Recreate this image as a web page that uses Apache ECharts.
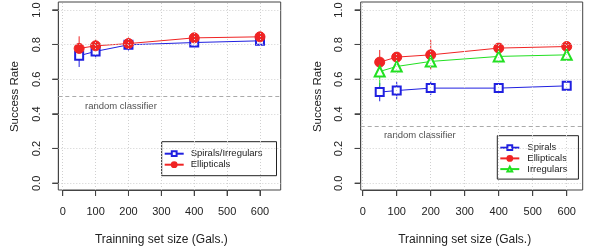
<!DOCTYPE html>
<html><head><meta charset="utf-8">
<script src="https://cdn.jsdelivr.net/npm/echarts@6/dist/echarts.min.js"></script>
<style>html,body{margin:0;padding:0;background:#fff}#c{width:600px;height:247px}</style>
</head><body><div id="c"></div>
<script>
// ---- data ----
const trainSizes = [50, 100, 200, 400, 600];
const xTicks = [0, 100, 200, 300, 400, 500, 600];
const yTicks = [0, 0.2, 0.4, 0.6, 0.8, 1.0];

// left panel
const spirIrrL = [0.735, 0.760, 0.798, 0.811, 0.821];
const spirIrrErrL = [0.065, 0.040, 0.033, 0.015, 0.010];
const ellipL = [0.777, 0.792, 0.805, 0.838, 0.844];
const ellipErrL = [0.070, 0.040, 0.035, 0.010, 0.010];
const randomL = 0.5;

// right panel
const spirR = [0.525, 0.534, 0.548, 0.548, 0.561];
const spirErrR = [0.053, 0.050, 0.040, 0.010, 0.015];
const ellipR = [0.698, 0.727, 0.740, 0.779, 0.788];
const ellipErrR = [0.070, 0.030, 0.085, 0.015, 0.015];
const irrR = [0.644, 0.673, 0.702, 0.731, 0.740];
const irrErrR = [0.085, 0.040, 0.030, 0.020, 0.020];
const randomR = 1 / 3;

const BLUE = '#2020e0', RED = '#f02424', GREEN = '#22e022';
const FONT = "'Liberation Sans', Arial, sans-serif";
const TXT = '#222';
const Y_RANGE = [-0.04, 1.045];
const X_RANGE_L = [-13.4, 663], X_RANGE_R = [-5.9, 647];

function pts(vals) { return trainSizes.map((x, i) => [x, vals[i]]); }
function errPts(vals, errs) { return trainSizes.map((x, i) => [x, vals[i], errs[i]]); }

function errSeries(idx, vals, errs, color) {
  return {
    type: 'custom', name: 'err' + idx + color, xAxisIndex: idx, yAxisIndex: idx,
    data: errPts(vals, errs), silent: true, z: 3,
    renderItem: function (params, api) {
      const x = api.value(0), y = api.value(1), e = api.value(2);
      const a = api.coord([x, y - e]), b = api.coord([x, y + e]);
      return { type: 'line', shape: { x1: a[0], y1: a[1], x2: b[0], y2: b[1] },
               style: { stroke: color, lineWidth: 1 } };
    }
  };
}
// outward tick marks on the box edges, placed through the axis scales
function tickMarks(idx, xr) {
  const data = xTicks.map(v => [v, 0]).concat(yTicks.map(v => [v, 1]));
  return {
    type: 'custom', xAxisIndex: idx, yAxisIndex: idx, data: data, silent: true, clip: false, z: 10,
    renderItem: function (params, api) {
      const v = api.value(0), isY = api.value(1) === 1;
      if (!isY) {
        const p = api.coord([v, Y_RANGE[0]]);
        return { type: 'line', shape: { x1: p[0], y1: p[1], x2: p[0], y2: p[1] + 6 }, style: { stroke: '#444', lineWidth: 1 } };
      }
      const p = api.coord([xr[0], v]);
      return { type: 'line', shape: { x1: p[0], y1: p[1], x2: p[0] - 6, y2: p[1] }, style: { stroke: '#444', lineWidth: 1 } };
    }
  };
}
function lineSeries(idx, name, vals, color, symbol, size) {
  return {
    type: 'line', name: name, xAxisIndex: idx, yAxisIndex: idx, data: pts(vals),
    symbol: symbol, symbolSize: size, showSymbol: true, z: 4,
    lineStyle: { color: color, width: 1 },
    itemStyle: { color: color, borderColor: color, borderWidth: 1 },
    emphasis: { disabled: true }
  };
}
function textSeries(idx, x, y, randomY) {
  return {
    type: 'scatter', xAxisIndex: idx, yAxisIndex: idx, data: [[x, y]], symbolSize: 0, silent: true, z: 1,
    label: { show: true, position: 'inside', formatter: 'random classifier',
             fontFamily: FONT, fontSize: 9.5, color: TXT },
    markLine: {
      silent: true, symbol: ['none', 'none'], label: { show: false }, animation: false,
      data: xTicks.map(v => ({ xAxis: v, lineStyle: { color: '#d0d0d0', type: [1, 2], width: 1 } }))
        .concat(yTicks.map(v => ({ yAxis: v, lineStyle: { color: '#d0d0d0', type: [1, 2], width: 1 } })))
        .concat([{ yAxis: randomY, lineStyle: { color: '#aaaaaa', type: [4, 3], width: 1 } }])
    }
  };
}

// box axes (full plotting region, hidden)
function boxX(idx, r) { return { type: 'value', gridIndex: idx, min: r[0], max: r[1], show: false }; }
function boxY(idx) { return { type: 'value', gridIndex: idx, min: Y_RANGE[0], max: Y_RANGE[1], show: false }; }
// label axes (span 0..600 / 0..1, offset onto the box edges)
function tickX(gi, off) {
  return {
    type: 'value', gridIndex: gi, min: 0, max: 600, interval: 100, offset: off,
    name: 'Trainning set size (Gals.)', nameLocation: 'middle', nameGap: 44,
    nameTextStyle: { fontFamily: FONT, fontSize: 12, color: TXT },
    axisLine: { show: true, onZero: false, lineStyle: { color: '#444', width: 1 } }, splitLine: { show: false },
    axisTick: { show: true, inside: false, length: 6, lineStyle: { color: '#444', width: 1 } },
    axisLabel: { fontFamily: FONT, fontSize: 11, color: TXT, margin: 16 }
  };
}
function tickY(gi, off) {
  return {
    type: 'value', gridIndex: gi, min: 0, max: 1, interval: 0.2, offset: off,
    name: 'Success Rate', nameLocation: 'middle', nameGap: 37, nameRotate: 90,
    nameTextStyle: { fontFamily: FONT, fontSize: 11.5, color: TXT },
    axisLine: { show: true, onZero: false, lineStyle: { color: '#444', width: 1 } }, splitLine: { show: false },
    axisTick: { show: true, inside: false, length: 6, lineStyle: { color: '#444', width: 1 } },
    axisLabel: { fontFamily: FONT, fontSize: 11, color: TXT, margin: 16, rotate: 90,
                 formatter: v => v.toFixed(1) }
  };
}

const chart = echarts.init(document.getElementById('c'), null, { renderer: 'canvas' });
chart.setOption({
  animation: false,
  backgroundColor: '#fff',
  grid: [
    { left: 58.3, top: 2, width: 222.4, height: 188, show: true, borderColor: '#444', borderWidth: 1, backgroundColor: 'transparent', outerBoundsMode: 'none', containLabel: false },
    { left: 360.7, top: 2, width: 222, height: 188, show: true, borderColor: '#444', borderWidth: 1, backgroundColor: 'transparent', outerBoundsMode: 'none', containLabel: false },
    { left: 62.7, top: 10, width: 197.3, height: 173.3, show: false, outerBoundsMode: 'none', containLabel: false },
    { left: 362.7, top: 10, width: 204, height: 173.3, show: false, outerBoundsMode: 'none', containLabel: false }
  ],
  xAxis: [boxX(0, X_RANGE_L), boxX(1, X_RANGE_R), tickX(2, 6.7), tickX(3, 6.7)],
  yAxis: [boxY(0), boxY(1), tickY(2, 4.4), tickY(3, 2)],
  legend: [
    { data: ['Spirals/Irregulars', 'Ellipticals'], orient: 'vertical', left: 161.7, top: 141.7,
      itemWidth: 19, itemHeight: 6, itemGap: 1, padding: [7, 14, 6, 2],
      borderColor: '#222', borderWidth: 1, borderRadius: 0, selectedMode: false,
      textStyle: { fontFamily: FONT, fontSize: 9.5, lineHeight: 10, color: TXT, padding: [0, 0, 0, 2] } },
    { data: ['Spirals', 'Ellipticals', 'Irregulars'], orient: 'vertical', left: 497.3, top: 135.7,
      itemWidth: 19, itemHeight: 6, itemGap: 0.7, padding: [7, 11, 5, 2],
      borderColor: '#222', borderWidth: 1, borderRadius: 0, selectedMode: false,
      textStyle: { fontFamily: FONT, fontSize: 9.5, lineHeight: 10, color: TXT, padding: [0, 0, 0, 3] } }
  ],
  series: [
    textSeries(0, 177, 0.44, randomL),
    tickMarks(0, X_RANGE_L),
    errSeries(0, spirIrrL, spirIrrErrL, BLUE),
    errSeries(0, ellipL, ellipErrL, RED),
    lineSeries(0, 'Spirals/Irregulars', spirIrrL, BLUE, 'emptyRect', 8),
    lineSeries(0, 'Ellipticals', ellipL, RED, 'circle', 10),

    textSeries(1, 168, 0.273, randomR),
    tickMarks(1, X_RANGE_R),
    errSeries(1, spirR, spirErrR, BLUE),
    errSeries(1, ellipR, ellipErrR, RED),
    errSeries(1, irrR, irrErrR, GREEN),
    lineSeries(1, 'Spirals', spirR, BLUE, 'emptyRect', 8),
    lineSeries(1, 'Ellipticals', ellipR, RED, 'circle', 10),
    lineSeries(1, 'Irregulars', irrR, GREEN, 'emptyTriangle', 10)
  ]
});
</script></body></html>
